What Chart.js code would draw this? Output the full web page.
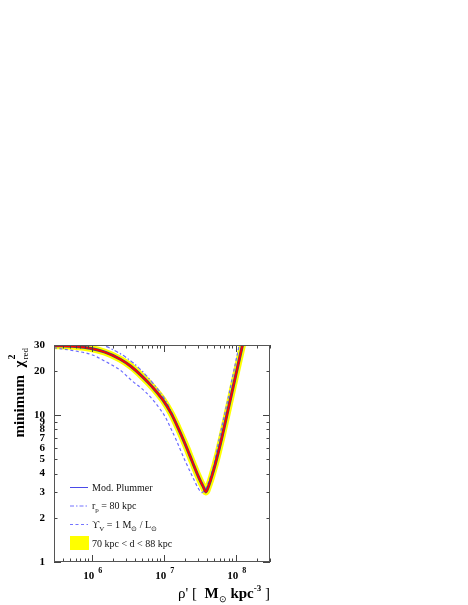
<!DOCTYPE html>
<html><head><meta charset="utf-8">
<script src="https://cdn.jsdelivr.net/npm/chart.js@4/dist/chart.umd.min.js"></script>
<style>html,body{margin:0;padding:0;background:#fff;}canvas{display:block;}</style>
</head><body>
<canvas id="c" width="468" height="605"></canvas>
<script>
// ---- data ----
const plummerRho = [3.0e5, 6.0e5, 9.5e5, 1.5e6, 2.5e6, 3.5e6, 5.1e6, 7.0e6, 9.8e6, 1.26e7, 1.58e7, 2.0e7, 2.51e7, 3.02e7, 3.31e7, 3.59e7, 3.84e7, 4.31e7, 4.74e7, 5.19e7, 5.82e7, 6.38e7, 6.84e7, 8.22e7, 9.89e7, 1.25e8, 1.41e8];
const plummerChi = [29.7, 29.3, 28.5, 26.9, 24.0, 21.5, 18.2, 15.5, 12.65, 10.35, 8.22, 6.31, 4.79, 3.84, 3.48, 3.21, 3.0, 3.40, 3.94, 4.60, 5.73, 6.92, 8.03, 12.05, 18.1, 30.3, 39.6];

const rpRho = [1.2e6, 1.44e6, 2.0e6, 2.73e6, 3.8e6, 5.1e6, 7.0e6, 9.7e6, 1.2e7, 1.48e7, 1.82e7, 2.0e7, 2.51e7, 3.02e7, 3.31e7, 3.59e7, 3.89e7, 4.31e7, 4.74e7, 5.19e7, 5.82e7, 6.38e7, 6.84e7, 8.22e7, 9.89e7, 1.25e8, 1.41e8];
const rpChi  = [31.1, 30.0, 27.8, 25.5, 22.6, 19.8, 16.6, 13.5, 11.25, 9.0, 7.1, 6.35, 4.82, 3.86, 3.51, 3.24, 3.05, 3.35, 3.85, 4.48, 5.56, 6.7, 7.78, 11.7, 17.5, 29.3, 38.4];

const upsRho = [3.0e5, 6.0e5, 1.0e6, 1.6e6, 2.5e6, 3.6e6, 5.5e6, 7.5e6, 8.9e6, 1.05e7, 1.26e7, 1.48e7, 1.95e7, 2.63e7, 3.02e7, 3.39e7, 3.76e7, 4.17e7, 4.57e7, 5.07e7, 5.69e7, 6.46e7, 7.59e7, 9.02e7, 1.122e8, 1.268e8];
const upsChi = [28.7, 27.3, 25.8, 23.0, 20.2, 17.2, 14.5, 12.3, 11.0, 9.75, 8.1, 6.85, 4.98, 3.64, 3.18, 2.97, 3.12, 3.45, 3.94, 4.75, 6.3, 8.4, 12.0, 18.0, 30, 40];

const xTickValues = [3e5,4e5,5e5,6e5,7e5,8e5,9e5,1e6,2e6,3e6,4e6,5e6,6e6,7e6,8e6,9e6,1e7,2e7,3e7,4e7,5e7,6e7,7e7,8e7,9e7,1e8,2e8,3e8];
const xMajorValues = [1e6, 1e7, 1e8];
const xMajorBase = ['10', '10', '10'];
const xMajorExp = ['6', '7', '8'];
const yTickValues = [1,2,3,4,5,6,7,8,9,10,20,30];
const yTickLabels = ['1','2','3','4','5','6','7','8','9','10','20','30'];
const yMajorValues = [1, 10];

const SERIF = "'Liberation Serif','Times New Roman',serif";

function pts(xs, ys){ return xs.map((x,i)=>({x:x, y:ys[i]})); }

function rich(ctx, x, y, parts, align){
  let w = 0;
  parts.forEach(p=>{ ctx.font = (p[2]||'normal')+' '+p[1]+'px '+SERIF; w += ctx.measureText(p[0]).width; });
  let cx = align === 'right' ? x - w : x;
  parts.forEach(p=>{ ctx.font = (p[2]||'normal')+' '+p[1]+'px '+SERIF; ctx.fillText(p[0], cx, y + (p[3]||0)); cx += ctx.measureText(p[0]).width; });
  return w;
}

const deco = {
  id: 'deco',
  afterDatasetsDraw(chart){
    const ctx = chart.ctx, a = chart.chartArea, xs = chart.scales.x, ys = chart.scales.y;
    ctx.save();
    ctx.strokeStyle = '#444'; ctx.lineWidth = 1;
    ctx.beginPath();
    xTickValues.forEach(v=>{
      const px = Math.round(xs.getPixelForValue(v)) + 0.5;
      const L = xMajorValues.includes(v) ? 7 : 3.5;
      ctx.moveTo(px, a.bottom); ctx.lineTo(px, a.bottom - L);
      ctx.moveTo(px, a.top); ctx.lineTo(px, a.top + L);
    });
    yTickValues.forEach(v=>{
      const py = Math.round(ys.getPixelForValue(v)) + 0.5;
      const L = yMajorValues.includes(v) ? 7 : 3.5;
      ctx.moveTo(a.left, py); ctx.lineTo(a.left + L, py);
      ctx.moveTo(a.right, py); ctx.lineTo(a.right - L, py);
    });
    ctx.stroke();
    ctx.strokeStyle = '#555';
    ctx.strokeRect(Math.round(a.left)+0.5, Math.round(a.top)+0.5, Math.round(a.right-a.left)-1, Math.round(a.bottom-a.top)-1);
    ctx.restore();
  },
  afterDraw(chart){
    const ctx = chart.ctx, a = chart.chartArea, xs = chart.scales.x;
    ctx.save();
    ctx.fillStyle = '#000';
    ctx.textBaseline = 'alphabetic';
    // x tick labels (10^n)
    xMajorValues.forEach((v,i)=>{
      const px = xs.getPixelForValue(v);
      ctx.font = 'bold 11px ' + SERIF;
      const wb = ctx.measureText(xMajorBase[i]).width;
      ctx.fillText(xMajorBase[i], px - wb/2 - 3, a.bottom + 17);
      ctx.font = 'bold 8px ' + SERIF;
      ctx.fillText(xMajorExp[i], px + wb/2 + 1, a.bottom + 11);
    });
    // x axis title
    rich(ctx, a.right, 598, [
      ["\u03C1' [  ", 15], ['M', 15, 'bold'], ['\u2299', 9, 'normal', 4], [' kpc', 15, 'bold'], ['-3', 9, 'bold', -7], [' ]', 15]
    ], 'right');
    // y axis title (rotated)
    ctx.font = 'bold 15px ' + SERIF;
    const main = 'minimum  \u03C7';
    const w1 = ctx.measureText(main).width;
    ctx.font = 'normal 9px ' + SERIF;
    const w3 = ctx.measureText('red').width;
    const total = w1 + 1 + w3;
    ctx.translate(24, a.top + 3 + total);
    ctx.rotate(-Math.PI/2);
    ctx.font = 'bold 15px ' + SERIF;
    ctx.fillText(main, 0, 0);
    ctx.font = 'bold 10px ' + SERIF;
    ctx.fillText('2', w1 + 1, -9);
    ctx.font = 'normal 9px ' + SERIF;
    ctx.fillText('red', w1 + 1, 4);
    ctx.setTransform(1,0,0,1,0,0);

    // legend
    const lx0 = a.left + 16, lx1 = a.left + 34, tx = a.left + 38;
    const rows = [a.top + 142, a.top + 160.5, a.top + 179];
    ctx.lineWidth = 1;
    ctx.strokeStyle = '#4a4ae8'; ctx.setLineDash([]);
    ctx.beginPath(); ctx.moveTo(lx0, rows[0]+0.5); ctx.lineTo(lx1, rows[0]+0.5); ctx.stroke();
    ctx.strokeStyle = '#7373ff'; ctx.setLineDash([4,2,1.5,2]);
    ctx.beginPath(); ctx.moveTo(lx0, rows[1]+0.5); ctx.lineTo(lx1, rows[1]+0.5); ctx.stroke();
    ctx.setLineDash([3,2.5]);
    ctx.beginPath(); ctx.moveTo(lx0, rows[2]+0.5); ctx.lineTo(lx1, rows[2]+0.5); ctx.stroke();
    ctx.setLineDash([]);
    ctx.fillStyle = '#ffff00';
    ctx.fillRect(lx0, a.top + 191, 19, 14);
    ctx.fillStyle = '#111';
    rich(ctx, tx, rows[0] + 3.5, [['Mod. Plummer', 10]]);
    rich(ctx, tx, rows[1] + 3.5, [['r', 10], ['p', 7, 'normal', 3], [' = 80 kpc', 10]]);
    rich(ctx, tx, rows[2] + 3.5, [['\u03D2', 10], ['V', 7, 'normal', 3], [' = 1 M', 10], ['\u2299', 7, 'normal', 3], [' / L', 10], ['\u2299', 7, 'normal', 3]]);
    rich(ctx, tx, a.top + 201.5, [['70 kpc < d < 88 kpc', 10]]);
    ctx.restore();
  }
};

new Chart(document.getElementById('c'), {
  type: 'line',
  data: {
    datasets: [
      { label: 'Mod. Plummer (red)', data: pts(plummerRho, plummerChi), borderColor: '#ff0000', borderWidth: 1.7, pointRadius: 0, cubicInterpolationMode: 'monotone', clip: 0, order: 0 },
      { label: 'Mod. Plummer', data: pts(plummerRho, plummerChi), borderColor: '#45457a', borderWidth: 3.0, pointRadius: 0, cubicInterpolationMode: 'monotone', clip: 0, order: 1 },
      { label: 'r_p = 80 kpc', data: pts(rpRho, rpChi), borderColor: '#6b6bff', borderWidth: 1.2, borderDash: [4,2,1.5,2], pointRadius: 0, cubicInterpolationMode: 'monotone', clip: 0, order: 2 },
      { label: 'Upsilon_V = 1', data: pts(upsRho, upsChi), borderColor: '#6b6bff', borderWidth: 1.2, borderDash: [3,2.5], pointRadius: 0, cubicInterpolationMode: 'monotone', clip: 0, order: 3 },
      { label: '70 kpc < d < 88 kpc', data: pts(plummerRho, plummerChi), borderColor: '#ffff00', borderWidth: 7, pointRadius: 0, cubicInterpolationMode: 'monotone', clip: 0, order: 4 }
    ]
  },
  options: {
    responsive: false,
    animation: false,
    events: [],
    layout: { padding: { top: 345, right: 198, left: 0, bottom: 0 } },
    plugins: { legend: { display: false }, tooltip: { enabled: false } },
    scales: {
      x: {
        type: 'logarithmic', min: 3e5, max: 3e8, position: 'bottom',
        ticks: { display: false },
        grid: { display: false, drawTicks: false },
        border: { display: false },
        afterFit: s => { s.height = 43; }
      },
      y: {
        type: 'logarithmic', min: 1, max: 30, position: 'left',
        afterBuildTicks: s => { s.ticks = yTickValues.map(v => ({ value: v })); },
        ticks: {
          autoSkip: false, maxRotation: 0, padding: 9, color: '#000',
          font: { family: SERIF, size: 11, weight: 'bold' },
          callback: v => { const i = yTickValues.indexOf(v); return i >= 0 ? yTickLabels[i] : ''; }
        },
        grid: { display: false, drawTicks: false },
        border: { display: false },
        afterFit: s => { s.width = 54; }
      }
    }
  },
  plugins: [deco]
});
</script>
</body></html>
